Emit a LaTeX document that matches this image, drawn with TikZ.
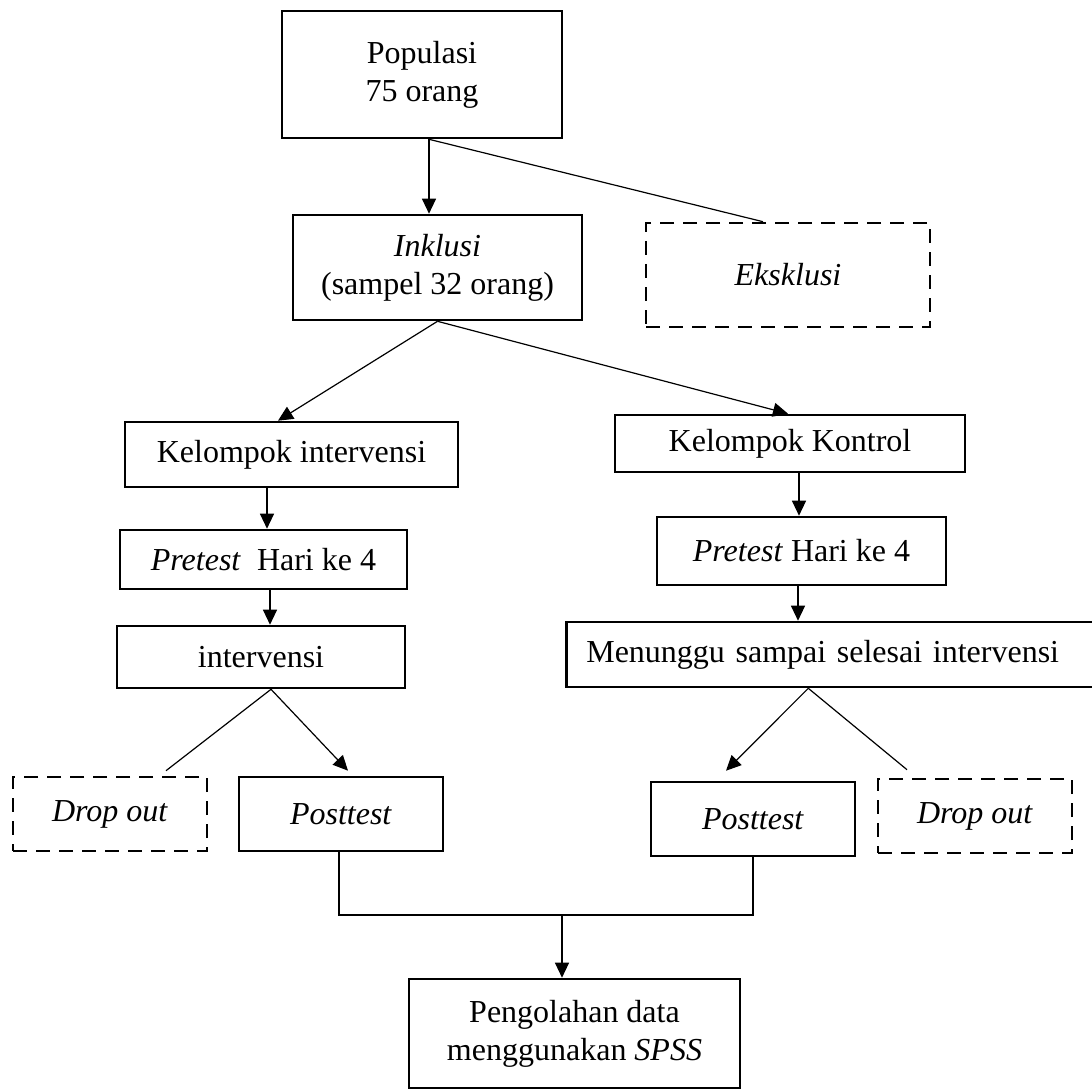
\documentclass[tikz,border=0pt]{standalone}
\usepackage{fontspec}
\setmainfont{Liberation Serif}
\usetikzlibrary{arrows.meta}
\tikzset{
  box/.style={rectangle, draw, line width=1.3pt, align=center, inner sep=0pt, font=\fontsize{16}{19}\selectfont},
  dashbox/.style={box, dash pattern=on 7pt off 4.5pt},
  link/.style={line width=0.6pt},
  arr/.style={link, -{Triangle[length=7.5pt,width=7pt]}}
}
\begin{document}
\begin{tikzpicture}[x=0.5pt,y=-0.5pt]
  \clip (0,0) rectangle (1092,1091);
  \fill[white] (0,0) rectangle (1092,1091);

  \node[box, minimum width=140pt, minimum height=63.5pt] (pop) at (422,74.5) {Populasi\\75 orang};
  \node[box, minimum width=144.5pt, minimum height=52.5pt] (inkl) at (437.5,267.5) {\textit{Inklusi}\\(sampel 32 orang)};
  \node[dashbox, minimum width=142pt, minimum height=52pt] (eks) at (788,275) {\textit{Eksklusi}};

  \node[box, minimum width=166.5pt, minimum height=32.5pt] (kint) at (291.5,454.5) {Kelompok intervensi};
  \node[box, minimum width=175pt, minimum height=28.5pt] (kkon) at (790,443.5) {Kelompok Kontrol};
  \node[box, minimum width=143.5pt, minimum height=29.5pt] (pre1) at (263.5,559.5) {\textit{Pretest}\ \ Hari ke 4};
  \node[box, minimum width=144.5pt, minimum height=34pt] (pre2) at (801.5,551) {\textit{Pretest} Hari ke 4};
  \node[box, minimum width=144pt, minimum height=31pt] (intv) at (261,657) {intervensi};
  \node[box, anchor=west, minimum height=32.5pt, text width=247.5pt, inner xsep=10pt, align=left] (wait) at (565,654.5) {Menunggu sampai selesai intervensi};

  \node[dashbox, minimum width=97pt, minimum height=37pt] (drop1) at (110,814) {\textit{Drop out}};
  \node[box, minimum width=102pt, minimum height=37pt] (post1) at (341,814) {\textit{Posttest}};
  \node[box, minimum width=102pt, minimum height=37pt] (post2) at (753,819) {\textit{Posttest}};
  \node[dashbox, minimum width=97pt, minimum height=37pt] (drop2) at (975,816) {\textit{Drop out}};

  \node[box, minimum width=165.5pt, minimum height=54.5pt] (spss) at (574.5,1033.5) {Pengolahan data\\menggunakan \textit{SPSS}};
  \coordinate (join) at (562,915);

  \draw[arr] ([xshift=3.5pt]pop.south) -- ([xshift=3.5pt]pop.south |- inkl.north);
  \draw[link] ([xshift=3.5pt]pop.south) -- ([xshift=-12.5pt]eks.north);
  \draw[arr] (inkl.south) -- ([xshift=-6.75pt]kint.north);
  \draw[arr] (inkl.south) -- ([xshift=-1pt]kkon.north);
  \draw[arr] ([xshift=-12.25pt]kint.south) -- ([xshift=-12.25pt]kint.south |- pre1.north);
  \draw[arr] ([xshift=3.25pt]pre1.south) -- ([xshift=3.25pt]pre1.south |- intv.north);
  \draw[arr] ([xshift=4.5pt]kkon.south) -- ([xshift=4.5pt]kkon.south |- pre2.north);
  \draw[arr] ([xshift=-1.75pt]pre2.south) -- ([xshift=-1.75pt]pre2.south |- wait.north);

  \draw[link] ([xshift=5pt]intv.south) -- ([xshift=28pt,yshift=2.5pt]drop1.north);
  \draw[arr] ([xshift=5pt]intv.south) -- ([xshift=3.5pt,yshift=2.5pt]post1.north);
  \draw[arr] ([xshift=-12.75pt]wait.south) -- ([xshift=-13.5pt,yshift=5pt]post2.north);
  \draw[link] ([xshift=-12.75pt]wait.south) -- ([xshift=-34pt,yshift=4pt]drop2.north);

  \draw[link] ([xshift=-1pt]post1.south) |- (join) -| (post2.south);
  \draw[arr] (join) -- (join |- spss.north);
\end{tikzpicture}
\end{document}
